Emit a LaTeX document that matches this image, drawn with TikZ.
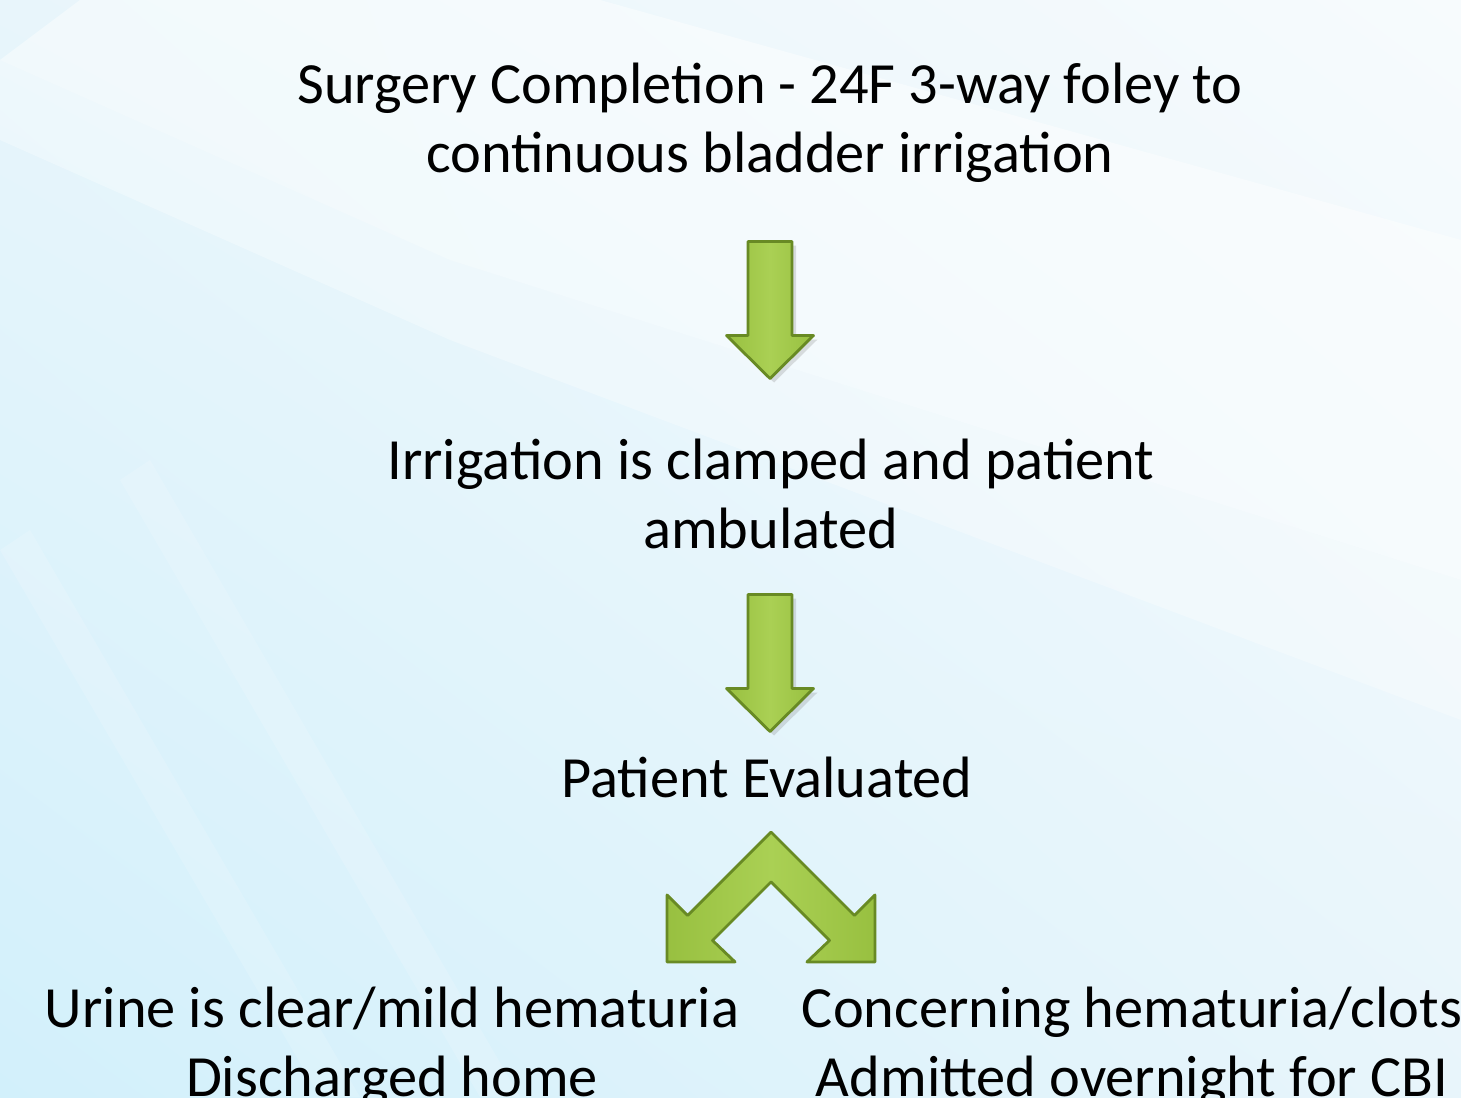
\documentclass[tikz,border=0pt]{standalone}
\usepackage{fontspec}
\setmainfont{Carlito}
\usetikzlibrary{positioning,calc,shadows,shadings}
\definecolor{bgCyan}{RGB}{210,240,251}
\definecolor{bgSoft}{RGB}{232,245,251}
\definecolor{bgPale}{RGB}{247,251,253}
\definecolor{leafGreen}{RGB}{152,192,64}
\definecolor{leafLight}{RGB}{170,208,84}
\definecolor{leafDark}{RGB}{104,138,36}

\begin{document}
\begin{tikzpicture}[every node/.style={font=\fontsize{16.6}{19.6}\selectfont, inner sep=0pt},
  flowtext/.style={align=center},
  blockarrow/.style={draw=leafDark, line width=0.8pt, line join=round,
    left color=leafGreen, right color=leafGreen, middle color=leafLight,
    drop shadow={opacity=0.25, shadow xshift=0.04, shadow yshift=-0.04}}]
  \useasboundingbox (0,0) rectangle (14.61,-10.97);
  % Background
  \shade[upper left=bgSoft, upper right=bgPale, lower left=bgCyan, lower right=bgSoft]
    (0,0) rectangle (14.61,-10.97);
  \fill[white, opacity=0.45] (0,-0.6) -- (4.5,-2.6) -- (14.61,-5.8) -- (14.61,-2.4) -- (6,-0.0) -- (0.8,0) -- cycle;
  \fill[white, opacity=0.30] (0,-1.4) -- (4.5,-3.4) -- (14.61,-7.2) -- (14.61,-5.8) -- (4.5,-2.6) -- (0,-0.6) -- cycle;
  \fill[white, opacity=0.15] (0,-5.5) -- (3.2,-10.97) -- (3.6,-10.97) -- (0.3,-5.3) -- cycle;
  \fill[white, opacity=0.15] (1.2,-4.8) -- (4.8,-10.97) -- (5.2,-10.97) -- (1.5,-4.6) -- cycle;
  % Steps
  \node[flowtext] (sent) at (7.70,-1.23) {Surgery Completion - 24F 3-way foley to\\continuous bladder irrigation};
  \node[flowtext] (clamp) at (7.71,-4.94) {Irrigation is clamped and patient\\ambulated};
  \node[anchor=base] (eval) at (7.67,-7.97) {Patient Evaluated};
  \node[flowtext] (home) at (3.92,-10.47) {Urine is clear/mild hematuria\\Discharged home};
  \node[flowtext] (admit) at (11.32,-10.47) {Concerning hematuria/clots\\Admitted overnight for CBI};
  % Arrows
  \coordinate (drop1) at (7.70,-3.10);
  \coordinate (drop2) at (7.70,-6.63);
  \coordinate (fork) at (7.71,-8.32);
  \foreach \c in {drop1,drop2}
    \draw[blockarrow, shift={(\c)}] (-0.22,0.685) -- (0.22,0.685) -- (0.22,-0.255) -- (0.435,-0.255)
      -- (0,-0.685) -- (-0.435,-0.255) -- (-0.22,-0.255) -- cycle;
  \draw[blockarrow, shift={(fork)}, x=0.01cm, y=0.01cm] (0,0) -- (-83.5,-83.5) -- (-104,-63) -- (-104,-130)
    -- (-36,-130) -- (-58.5,-108.5) -- (0,-50) -- (58.5,-108.5) -- (36,-130) -- (104,-130)
    -- (104,-63) -- (83.5,-83.5) -- cycle;
\end{tikzpicture}
\end{document}
